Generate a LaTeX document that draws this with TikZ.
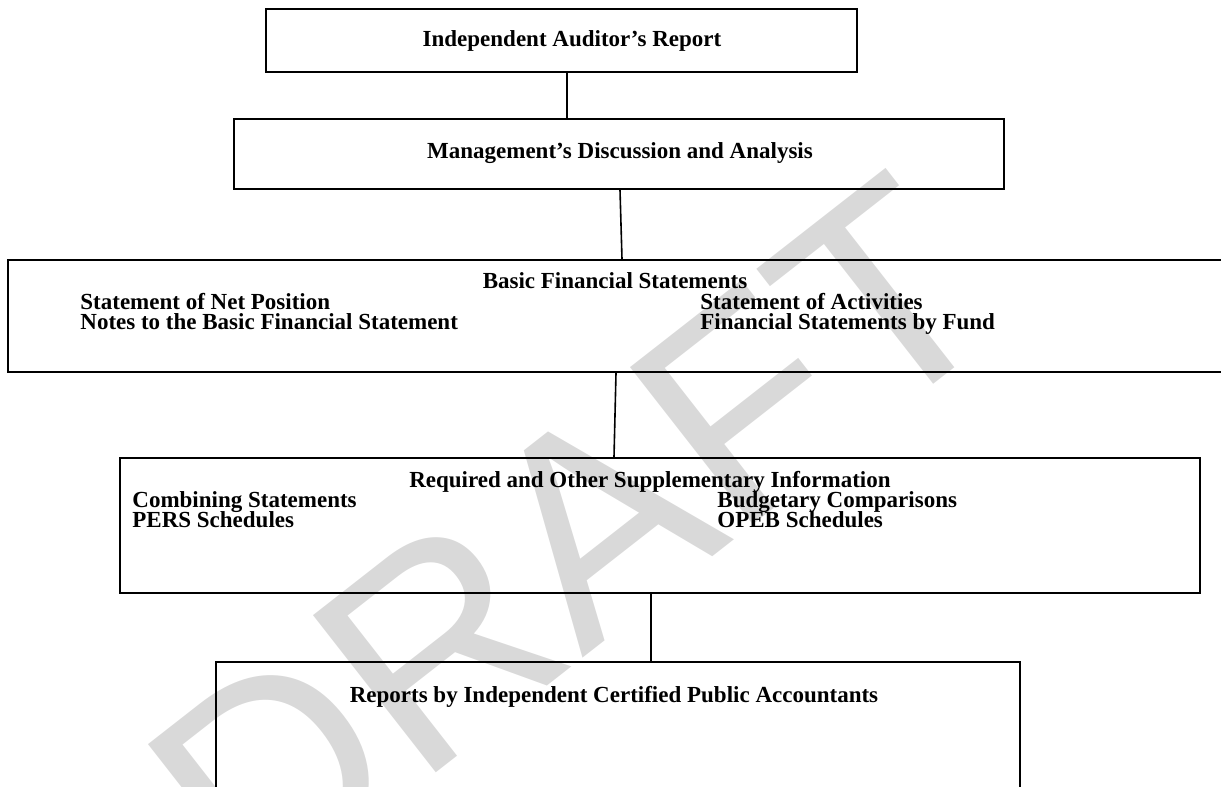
\documentclass[tikz,border=0pt]{standalone}
\usepackage{fontspec}
\setmainfont{Liberation Serif}
\newfontfamily\markfont{Liberation Sans}
\begin{document}
\begin{tikzpicture}[x=0.5pt,y=-0.5pt]
	\tikzstyle{box}=[rectangle,draw=black,line width=1pt,inner sep=0pt]
	\tikzstyle{lbl}=[inner sep=0pt,font=\fontsize{11.5}{13}\selectfont\bfseries]
	\tikzstyle{item}=[lbl,anchor=base west]
	\tikzstyle{edge}=[draw=black,line width=0.8pt]

	\useasboundingbox (0,0) rectangle (1221,787);

	% watermark
	\node [text=black!15,rotate=38,inner sep=0pt,font=\fontsize{145}{145}\markfont] (draft) at (572,540) {DRAFT};

	\node [box,minimum width=295.5pt,minimum height=31.5pt] (audit) at (561.5,40.5) {};
	\node [lbl] (auditlbl) at (572,41) {Independent Auditor's Report};

	\node [box,minimum width=385pt,minimum height=35pt] (mda) at (619,154) {};
	\node [lbl] (mdalbl) at (620,153) {Management's Discussion and Analysis};

	\node [box,minimum width=616pt,minimum height=56pt] (basic) at (624,316) {};
	\node [lbl,anchor=base] (basiclbl) at (615,288) {Basic Financial Statements};
	\node [item] (netpos) at (80,309) {Statement of Net Position};
	\node [item] (notes) at (80,329) {Notes to the Basic Financial Statement};
	\node [item] (activ) at (700,309) {Statement of Activities};
	\node [item] (byfund) at (700,329) {Financial Statements by Fund};

	\node [box,minimum width=540pt,minimum height=67.5pt] (rsi) at (660,525.5) {};
	\node [lbl,anchor=base] (rsilbl) at (650,487) {Required and Other Supplementary Information};
	\node [item] (comb) at (132,507) {Combining Statements};
	\node [item] (pers) at (132,527) {PERS Schedules};
	\node [item] (budget) at (717,507) {Budgetary Comparisons};
	\node [item] (opeb) at (717,527) {OPEB Schedules};

	\node [box,minimum width=402pt,minimum height=79pt] (cpa) at (618,741) {};
	\node [lbl] (cpalbl) at (614,697) {Reports by Independent Certified Public Accountants};

	\path[edge] ([xshift=2.75pt]audit.south) -- ([xshift=-26pt]mda.north);
	\path[edge] ([xshift=0.5pt]mda.south) -- ([xshift=-1pt]basic.north);
	\path[edge] ([xshift=-4pt]basic.south) -- ([xshift=-23pt]rsi.north);
	\path[edge] ([xshift=-4.5pt]rsi.south) -- ([xshift=16.5pt]cpa.north);

\end{tikzpicture}
\end{document}
